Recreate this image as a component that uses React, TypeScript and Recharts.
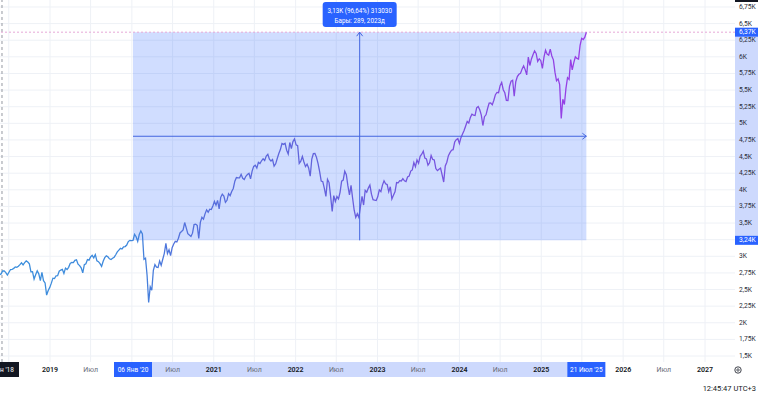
import React from 'react';
import { ComposedChart, Line, XAxis, YAxis, CartesianGrid, ReferenceArea, ReferenceLine } from 'recharts';

// ---- data (weekly closes, one per Monday starting at SERIES_START) ----
const SERIES_START = [2018, 5, 21];
const closes2018 = [2721, 2735, 2779, 2780, 2755, 2718, 2760, 2801, 2802, 2818, 2840, 2833, 2850, 2874, 2902, 2872, 2905, 2930, 2914, 2886, 2767, 2768, 2658, 2723, 2781, 2736, 2633, 2760, 2633, 2600, 2417, 2486, 2532];
const closes2019 = [2596, 2671, 2665, 2707, 2708, 2776, 2793, 2804, 2743, 2822, 2800, 2834, 2893, 2907, 2905, 2940, 2946, 2881, 2860, 2826, 2752, 2873, 2887, 2950, 2942, 2990, 3014, 2977, 3026, 2932, 2919, 2889, 2847, 2926, 2979, 3007, 2992, 2962, 2952, 2970, 2986, 3023, 3067, 3093, 3120, 3110, 3141, 3146, 3169, 3221, 3240, 3235];
const closes2020 = [3240, 3330, 3295, 3225, 3328, 3380, 3338, 2954, 2972, 2711, 2305, 2541, 2489, 2790, 2875, 2837, 2831, 2930, 2864, 2955, 3044, 3194, 3041, 3098, 3009, 3130, 3185, 3224, 3216, 3271, 3351, 3373, 3397, 3508, 3427, 3341, 3319, 3298, 3348, 3477, 3484, 3465, 3270, 3510, 3585, 3558, 3638, 3699, 3663, 3709, 3703, 3756];
const closes2021 = [3825, 3768, 3841, 3714, 3887, 3934, 3907, 3811, 3842, 3943, 3913, 3975, 4020, 4129, 4185, 4180, 4181, 4233, 4174, 4156, 4204, 4230, 4247, 4166, 4281, 4352, 4370, 4327, 4412, 4395, 4437, 4468, 4442, 4509, 4535, 4459, 4433, 4455, 4357, 4391, 4471, 4545, 4605, 4697, 4683, 4698, 4595, 4538, 4712, 4620, 4725, 4766];
const closes2022 = [4677, 4663, 4398, 4432, 4501, 4419, 4349, 4385, 4329, 4204, 4463, 4543, 4546, 4488, 4393, 4272, 4132, 4123, 4023, 3901, 4158, 4109, 3901, 3675, 3912, 3825, 3899, 3863, 3962, 4130, 4145, 4280, 4228, 4058, 3924, 4067, 3873, 3693, 3586, 3640, 3583, 3752, 3901, 3771, 3993, 3965, 4026, 4072, 3934, 3852, 3845, 3840];
const closes2023 = [3895, 3999, 3973, 4071, 4136, 4090, 4079, 3970, 4046, 3862, 3917, 3971, 4109, 4105, 4138, 4133, 4169, 4136, 4124, 4192, 4205, 4282, 4299, 4410, 4348, 4450, 4399, 4505, 4536, 4582, 4478, 4464, 4370, 4406, 4516, 4457, 4450, 4320, 4288, 4309, 4327, 4224, 4117, 4358, 4415, 4514, 4559, 4595, 4604, 4719, 4755, 4770];
const closes2024 = [4697, 4784, 4840, 4891, 4959, 5027, 5005, 5089, 5137, 5124, 5117, 5234, 5254, 5204, 5123, 4967, 5100, 5128, 5223, 5303, 5305, 5278, 5347, 5431, 5465, 5460, 5567, 5615, 5505, 5459, 5346, 5344, 5554, 5634, 5648, 5408, 5626, 5703, 5738, 5751, 5815, 5865, 5808, 5729, 5995, 5870, 5969, 6032, 6090, 6051, 5931, 5971, 5942];
const closes2025 = [5827, 5997, 6101, 6041, 6026, 6115, 6013, 5955, 5770, 5639, 5668, 5581, 5074, 5363, 5283, 5525, 5687, 5660, 5958, 5803, 5912, 6000, 5977, 5968, 6173, 6279, 6260, 6297, 6371];

const SELECTION_START = [2020, 1, 6];
const SELECTION_END = [2025, 7, 21];
const CROSSHAIR_DATE = [2018, 6, 1];
const MONTHS_RU = ['Янв', 'Фев', 'Мар', 'Апр', 'Май', 'Июн', 'Июл', 'Авг', 'Сен', 'Окт', 'Ноя', 'Дек'];
const YEAR_TICKS = [2019, 2020, 2021, 2022, 2023, 2024, 2025, 2026, 2027];
const JULY_TICKS = [2018, 2019, 2020, 2021, 2022, 2023, 2024, 2025, 2026];
const PRICE_TICKS = [1500, 1750, 2000, 2250, 2500, 2750, 3000, 3250, 3500, 3750, 4000, 4250, 4500, 4750, 5000, 5250, 5500, 5750, 6000, 6250, 6500, 6750];
const MEASURE_LINE_1 = '3,13K (96,64%) 313030';
const MEASURE_LINE_2 = 'Бары: 289, 2023д';
const CLOCK_TEXT = '12:45:47 UTC+3';

// ---- layout ----
const W = 758;
const H = 393;
const PLOT_W = 735;
const PLOT_H = 362;
const X_MIN = 2018.3893;
const X_MAX = 2027.366;
const Y_MIN = 1410;
const Y_MAX = 6855;
const FONT = 'Roboto, "Noto Sans", sans-serif';
const BLUE = '#2962ff';
const BAND = '#cdd9fd';

const DAY = 86400000;
const yearFrac = (ms: number) => {
  const y = new Date(ms).getUTCFullYear();
  const a = Date.UTC(y, 0, 1);
  const b = Date.UTC(y + 1, 0, 1);
  return y + (ms - a) / (b - a);
};
const dateMs = (d: number[]) => Date.UTC(d[0], d[1] - 1, d[2]);

const allCloses = [...closes2018, ...closes2019, ...closes2020, ...closes2021, ...closes2022, ...closes2023, ...closes2024, ...closes2025];
const startMs = dateMs(SERIES_START);
const data = allCloses.map((v, i) => ({ t: yearFrac(startMs + i * 7 * DAY), v }));

const tSel0 = yearFrac(dateMs(SELECTION_START));
const tSel1 = yearFrac(dateMs(SELECTION_END));
const selIdx0 = Math.round((dateMs(SELECTION_START) - startMs) / (7 * DAY));
const v0 = data[selIdx0].v;
const v1 = data[data.length - 1].v;
const tCross = yearFrac(dateMs(CROSSHAIR_DATE));

const sx = (t: number) => ((t - X_MIN) / (X_MAX - X_MIN)) * PLOT_W;
const sy = (v: number) => ((Y_MAX - v) / (Y_MAX - Y_MIN)) * PLOT_H;

const fmtK = (v: number) => {
  let s = (v / 1000).toFixed(2);
  s = s.replace(/0+$/, '').replace(/\.$/, '');
  return s.replace('.', ',') + 'K';
};
const fmtDay = (d: number[]) => `${String(d[2]).padStart(2, '0')} ${MONTHS_RU[d[1] - 1]} '${String(d[0]).slice(2)}`;

type TickInfo = { label: string; kind: 'year' | 'jul' | 'sel' | 'cross' };
const tickMap = new Map<number, TickInfo>();
const specials = [tSel0, tSel1, tCross];
const nearSpecial = (t: number) => specials.some((s) => Math.abs(s - t) < 0.27);
const julyT = (y: number) => yearFrac(Date.UTC(y, 6, 1));
YEAR_TICKS.forEach((y) => { if (!nearSpecial(y)) tickMap.set(y, { label: String(y), kind: 'year' }); });
JULY_TICKS.forEach((y) => { const t = julyT(y); if (!nearSpecial(t)) tickMap.set(t, { label: MONTHS_RU[6], kind: 'jul' }); });
tickMap.set(tCross, { label: `${MONTHS_RU[CROSSHAIR_DATE[1] - 1]} '${String(CROSSHAIR_DATE[0]).slice(2)}`, kind: 'cross' });
tickMap.set(tSel0, { label: fmtDay(SELECTION_START), kind: 'sel' });
tickMap.set(tSel1, { label: fmtDay(SELECTION_END), kind: 'sel' });
const xTicks = Array.from(tickMap.keys()).sort((a, b) => a - b);
const gridX = [...YEAR_TICKS, ...JULY_TICKS.map(julyT)].sort((a, b) => a - b);
const yTicks = [...PRICE_TICKS.filter((p) => Math.abs(sy(p) - sy(v0)) > 4), v1, v0];

const XTick = (props: any) => {
  const { x, y, payload } = props;
  const info = tickMap.get(payload.value);
  if (!info) return null;
  const cy = y + 8;
  if (info.kind === 'sel' || info.kind === 'cross') {
    const w = info.kind === 'cross' ? 34 : 38;
    return (
      <g>
        <rect x={x - w / 2} y={y} width={w} height={15} fill={info.kind === 'sel' ? BLUE : '#131722'} />
        <text x={x} y={cy} textAnchor="middle" dominantBaseline="central" fontSize={6.5} fill="#ffffff" fontFamily={FONT}>{info.label}</text>
      </g>
    );
  }
  return (
    <text x={x} y={cy} textAnchor="middle" dominantBaseline="central" fontSize={7} fontWeight={info.kind === 'year' ? 600 : 400} fill={info.kind === 'year' ? '#131722' : '#6a6d78'} fontFamily={FONT}>{info.label}</text>
  );
};

const YTick = (props: any) => {
  const { x, y, payload } = props;
  const v = payload.value;
  if (v === v0 || v === v1) {
    return (
      <g>
        <rect x={PLOT_W} y={y - 4.5} width={W - PLOT_W} height={9} fill={BLUE} />
        <text x={x} y={y} dominantBaseline="central" fontSize={6.7} fill="#ffffff" fontFamily={FONT}>{fmtK(v)}</text>
      </g>
    );
  }
  return (
    <text x={x} y={y} dominantBaseline="central" fontSize={6.7} fill="#2a2e39" fontFamily={FONT}>{fmtK(v)}</text>
  );
};

export default function App() {
  const xMid = sx((tSel0 + tSel1) / 2);
  const yMid = sy((v0 + v1) / 2);
  const xs0 = sx(tSel0);
  const xs1 = sx(tSel1);
  const ys0 = sy(v0);
  const ys1 = sy(v1);
  const arrow = '#4366e0';
  return (
    <div style={{ position: 'fixed', left: 0, top: 0, width: W, height: H, background: '#ffffff', overflow: 'hidden' }}>
      <svg width={W} height={H} style={{ position: 'absolute', left: 0, top: 0 }}>
        <rect x={PLOT_W} y={ys1} width={W - PLOT_W} height={ys0 - ys1} fill={BAND} />
        <rect x={xs0} y={PLOT_H} width={xs1 - xs0} height={15} fill={BAND} />
      </svg>
      <div style={{ position: 'absolute', left: 0, top: 0 }}>
        <ComposedChart width={W} height={H} data={data} margin={{ top: 0, right: 0, bottom: 1, left: 0 }}>
          <defs>
            <linearGradient id="lineGrad" gradientUnits="userSpaceOnUse" x1={0} y1={0} x2={xs1} y2={0}>
              <stop offset="0" stopColor="#3b8fdc" />
              <stop offset="0.22" stopColor="#3f88dc" />
              <stop offset="0.3" stopColor="#5272dc" />
              <stop offset="0.55" stopColor="#6462dc" />
              <stop offset="0.8" stopColor="#7c50e0" />
              <stop offset="1" stopColor="#9b3de6" />
            </linearGradient>
          </defs>
          <CartesianGrid stroke="#eef1f6" strokeWidth={1} verticalValues={gridX} horizontalValues={PRICE_TICKS} />
          <XAxis dataKey="t" type="number" domain={[X_MIN, X_MAX]} allowDataOverflow ticks={xTicks} interval={0} tick={<XTick />} tickLine={false} axisLine={false} tickSize={0} tickMargin={0} height={30} />
          <YAxis orientation="right" type="number" domain={[Y_MIN, Y_MAX]} allowDataOverflow ticks={yTicks} interval={0} tick={<YTick />} tickLine={false} axisLine={false} tickSize={0} tickMargin={4} width={W - PLOT_W} />
          <ReferenceArea x1={tSel0} x2={tSel1} y1={v0} y2={v1} fill={BLUE} fillOpacity={0.22} stroke="none" ifOverflow="visible" />
          <ReferenceLine x={tCross} stroke="#9598a1" strokeDasharray="3 3" />
          <ReferenceLine y={v1} stroke="#e6a8d8" strokeDasharray="2 2" />
          <Line type="linear" dataKey="v" stroke="url(#lineGrad)" strokeWidth={1.3} dot={false} activeDot={false} isAnimationActive={false} />
        </ComposedChart>
      </div>
      <svg width={W} height={H} style={{ position: 'absolute', left: 0, top: 0, pointerEvents: 'none' }}>
        <line x1={xMid} y1={ys0} x2={xMid} y2={ys1} stroke={arrow} strokeWidth={1} />
        <polyline points={`${xMid - 3},${ys1 + 4} ${xMid},${ys1} ${xMid + 3},${ys1 + 4}`} fill="none" stroke={arrow} strokeWidth={1} />
        <line x1={xs0} y1={yMid} x2={xs1} y2={yMid} stroke={arrow} strokeWidth={1} />
        <polyline points={`${xs1 - 4},${yMid - 3} ${xs1},${yMid} ${xs1 - 4},${yMid + 3}`} fill="none" stroke={arrow} strokeWidth={1} />
        <rect x={xMid - 37} y={2} width={74} height={25} rx={3} fill={BLUE} />
        <text x={xMid} y={10.5} textAnchor="middle" dominantBaseline="central" fontSize={6.3} fill="#ffffff" fontFamily={FONT}>{MEASURE_LINE_1}</text>
        <text x={xMid} y={20.5} textAnchor="middle" dominantBaseline="central" fontSize={6.3} fill="#ffffff" fontFamily={FONT}>{MEASURE_LINE_2}</text>
        <rect x={PLOT_W} y={0} width={W - PLOT_W} height={2} fill="#131722" />
        <circle cx={738} cy={370} r={3.2} fill="none" stroke="#131722" strokeWidth={0.8} />
        <circle cx={738} cy={370} r={1.2} fill="none" stroke="#131722" strokeWidth={0.7} />
        <text x={756} y={388} textAnchor="end" dominantBaseline="central" fontSize={7.5} fill="#131722" fontFamily={FONT}>{CLOCK_TEXT}</text>
      </svg>
    </div>
  );
}
